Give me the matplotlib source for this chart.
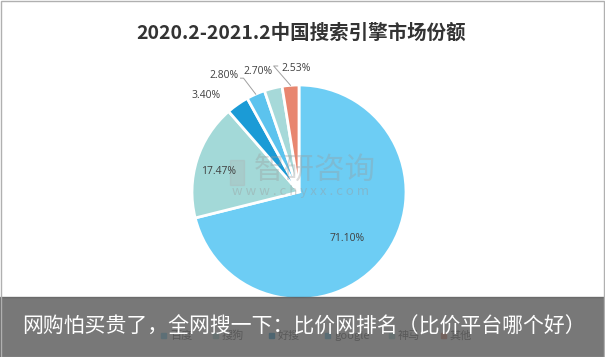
import numpy as np
import matplotlib
matplotlib.use("Agg")
from matplotlib import pyplot as plt
from matplotlib.patches import Rectangle

plt.rcParams['font.family'] = ['Noto Sans CJK SC', 'DejaVu Sans']

# 数据
nomes = ['百度', '搜狗', '好搜', 'google', '神马', '其他']
valores = [71.10, 17.47, 3.40, 2.80, 2.70, 2.53]
cores = ['#6dcdf4', '#a3d9d8', '#1b9bd6', '#5cc3ee', '#a6d9d9', '#e8866f']
titulo = '2020.2-2021.2中国搜索引擎市场份额'
faixa = '网购怕买贵了，全网搜一下：比价网排名（比价平台哪个好）'

W, H = 605, 357
fig = plt.figure(figsize=(W / 100, H / 100), dpi=100)
ax = fig.add_axes([0, 0, 1, 1])

cx, cy, r = 299, H - 192, 107
fatias, _ = ax.pie(valores, colors=cores, startangle=90, counterclock=False,
                   center=(cx, cy), radius=r, frame=True,
                   wedgeprops=dict(edgecolor='white', linewidth=2))
ax.set_xlim(0, W)
ax.set_ylim(0, H)
ax.axis('off')

# posição dos rótulos: (fator do raio, desvio angular, lado da linha guia)
pos = [(0.62, -6, 0), (0.78, 3, 0), (1.25, 9, 0),
       (1.30, 9, 1), (1.19, 5, 0), (1.15, -3, -1)]
for w, v, (f, da, lado) in zip(fatias, valores, pos):
    meio = np.deg2rad((w.theta1 + w.theta2) / 2)
    ang = meio + np.deg2rad(da)
    tx, ty = cx + f * r * np.cos(ang), cy + f * r * np.sin(ang)
    ax.text(tx, ty, '%.2f%%' % v, ha='center', va='center',
            fontsize=7.5, color='#404040', family='Open Sans')
    if lado:
        ex, ey = cx + r * np.cos(meio), cy + r * np.sin(meio)
        if lado > 0:
            ax.plot([tx + 17, tx + 20, ex], [ty - 3, ty - 3, ey],
                    color='#a0a0a0', lw=0.7)
        else:
            ax.plot([tx - 18, tx - 22, ex], [ty + 3, ty + 3, ey],
                    color='#a0a0a0', lw=0.7)

# marca d'água
ax.text(cx + 16, cy + 22, '智研咨询', ha='center', va='center', fontsize=22,
        color='#9a9a9a', alpha=0.35)
ax.text(cx + 2, cy, 'w w w . c h y x x . c o m', ha='center', va='center',
        fontsize=9.5, color='#9a9a9a', alpha=0.4)
ax.add_patch(Rectangle((cx - 69, cy + 7), 14, 25, color='#b0b0b0', alpha=0.3))

ax.text(301, H - 33, titulo, ha='center', va='center', fontsize=14,
        fontweight='bold', color='#333333')

# legenda
lx = [170, 222, 278, 334, 398, 450]
for x, n, c in zip(lx, nomes, cores):
    ax.add_patch(Rectangle((x - 9, H - 338), 5, 5, color=c))
    ax.text(x, H - 336, n, ha='left', va='center', fontsize=8, color='#595959')

# faixa cinza sobreposta
ax.add_patch(Rectangle((0, 0), W, H - 297, color='#5a5a5a', alpha=0.82,
                       zorder=5))
ax.text(22, H - 327, faixa, ha='left', va='center', fontsize=15,
        color='white', zorder=6)

# borda
ax.add_patch(Rectangle((0.5, 0.5), W - 2, H - 1.5, fill=False,
                       edgecolor='#b0b0b0', lw=1, zorder=7))

fig.savefig('out.png', dpi=100)
